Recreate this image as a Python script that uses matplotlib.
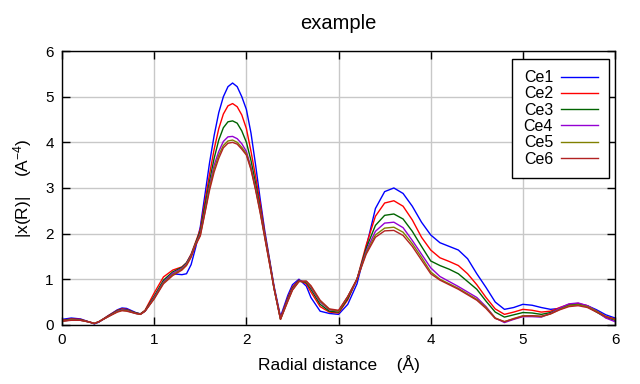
import matplotlib
matplotlib.use("Agg")
import matplotlib.pyplot as plt

plt.rcParams['font.family'] = ['Liberation Sans', 'DejaVu Sans']
plt.rcParams['mathtext.fontset'] = 'custom'
plt.rcParams['mathtext.rm'] = 'Liberation Sans'
plt.rcParams['mathtext.it'] = 'Liberation Sans'

# radial distance grid (Angstrom)
r = [0.0, 0.1, 0.2, 0.3, 0.35, 0.4, 0.5, 0.6, 0.65, 0.7, 0.8, 0.85, 0.9,
     1.0, 1.1, 1.2, 1.3, 1.35, 1.4, 1.45, 1.5, 1.55, 1.6, 1.65, 1.7, 1.75,
     1.8, 1.85, 1.9, 1.95, 2.0, 2.05, 2.1, 2.15, 2.2, 2.25, 2.3, 2.37,
     2.45, 2.5, 2.57, 2.65, 2.7, 2.8, 2.9, 3.0, 3.1, 3.2, 3.3, 3.4, 3.5,
     3.6, 3.7, 3.8, 3.9, 4.0, 4.1, 4.2, 4.3, 4.4, 4.5, 4.6, 4.7, 4.8, 4.9,
     5.0, 5.1, 5.2, 5.3, 5.4, 5.5, 5.6, 5.7, 5.8, 5.9, 6.0]

ce1 = [0.12, 0.15, 0.13, 0.06, 0.02, 0.06, 0.20, 0.33, 0.37, 0.36, 0.27, 0.24, 0.30,
       0.60, 0.95, 1.12, 1.10, 1.12, 1.32, 1.70, 2.15, 2.85, 3.55, 4.15, 4.65, 5.00,
       5.22, 5.30, 5.22, 5.00, 4.72, 4.20, 3.50, 2.75, 2.05, 1.45, 0.85, 0.18,
       0.65, 0.88, 1.00, 0.85, 0.60, 0.30, 0.25, 0.23, 0.45, 0.90, 1.70, 2.55, 2.92,
       3.00, 2.88, 2.60, 2.25, 1.97, 1.80, 1.72, 1.64, 1.45, 1.12, 0.82, 0.50, 0.34, 0.38,
       0.45, 0.43, 0.38, 0.34, 0.36, 0.42, 0.45, 0.42, 0.33, 0.22, 0.15]

ce2 = [0.10, 0.13, 0.12, 0.06, 0.03, 0.07, 0.20, 0.32, 0.35, 0.34, 0.26, 0.24, 0.32,
       0.70, 1.05, 1.20, 1.27, 1.36, 1.55, 1.82, 2.10, 2.70, 3.30, 3.85, 4.30, 4.62,
       4.80, 4.85, 4.78, 4.60, 4.30, 3.80, 3.25, 2.65, 2.00, 1.42, 0.82, 0.15,
       0.60, 0.83, 0.98, 0.90, 0.72, 0.40, 0.28, 0.26, 0.55, 1.00, 1.75, 2.38, 2.67,
       2.72, 2.60, 2.30, 1.92, 1.64, 1.47, 1.39, 1.30, 1.12, 0.88, 0.60, 0.35, 0.23, 0.28,
       0.34, 0.32, 0.28, 0.30, 0.38, 0.45, 0.47, 0.42, 0.30, 0.18, 0.12]

ce3 = [0.09, 0.12, 0.11, 0.06, 0.03, 0.07, 0.19, 0.31, 0.34, 0.33, 0.26, 0.24, 0.31,
       0.63, 0.98, 1.16, 1.26, 1.36, 1.53, 1.80, 2.05, 2.60, 3.15, 3.65, 4.05, 4.32,
       4.45, 4.47, 4.42, 4.25, 4.00, 3.60, 3.10, 2.55, 1.95, 1.40, 0.80, 0.13,
       0.57, 0.80, 0.97, 0.93, 0.78, 0.45, 0.30, 0.28, 0.58, 1.00, 1.68, 2.18, 2.40,
       2.43, 2.32, 2.05, 1.72, 1.40, 1.30, 1.22, 1.12, 0.95, 0.78, 0.52, 0.28, 0.17, 0.22,
       0.27, 0.26, 0.23, 0.27, 0.36, 0.43, 0.45, 0.40, 0.28, 0.16, 0.10]

ce4 = [0.08, 0.11, 0.10, 0.06, 0.03, 0.07, 0.18, 0.30, 0.33, 0.32, 0.25, 0.23, 0.30,
       0.60, 0.94, 1.13, 1.24, 1.34, 1.52, 1.78, 2.00, 2.50, 3.05, 3.50, 3.80, 4.02,
       4.12, 4.13, 4.08, 3.97, 3.80, 3.45, 3.00, 2.50, 1.93, 1.38, 0.80, 0.13,
       0.55, 0.78, 0.96, 0.95, 0.82, 0.50, 0.33, 0.30, 0.62, 1.00, 1.62, 2.05, 2.23,
       2.25, 2.13, 1.85, 1.55, 1.25, 1.06, 0.95, 0.84, 0.72, 0.60, 0.40, 0.15, 0.05, 0.12,
       0.18, 0.18, 0.17, 0.25, 0.37, 0.46, 0.48, 0.42, 0.30, 0.15, 0.07]

ce5 = [0.08, 0.11, 0.10, 0.06, 0.03, 0.07, 0.18, 0.29, 0.32, 0.31, 0.25, 0.23, 0.30,
       0.58, 0.92, 1.10, 1.22, 1.32, 1.50, 1.77, 1.97, 2.47, 3.00, 3.42, 3.72, 3.93,
       4.03, 4.05, 4.00, 3.89, 3.75, 3.42, 2.97, 2.47, 1.92, 1.36, 0.80, 0.12,
       0.53, 0.77, 0.95, 0.95, 0.84, 0.52, 0.34, 0.30, 0.62, 1.00, 1.58, 1.97, 2.12,
       2.14, 2.03, 1.78, 1.48, 1.16, 1.00, 0.90, 0.80, 0.68, 0.56, 0.38, 0.15, 0.07, 0.14,
       0.20, 0.20, 0.18, 0.24, 0.34, 0.42, 0.44, 0.40, 0.30, 0.18, 0.12]

ce6 = [0.08, 0.10, 0.10, 0.06, 0.03, 0.07, 0.18, 0.28, 0.31, 0.30, 0.25, 0.23, 0.30,
       0.57, 0.90, 1.08, 1.20, 1.30, 1.48, 1.75, 1.95, 2.45, 2.95, 3.35, 3.65, 3.88,
       3.98, 4.00, 3.96, 3.85, 3.72, 3.40, 2.95, 2.45, 1.90, 1.35, 0.80, 0.12,
       0.52, 0.76, 0.95, 0.96, 0.86, 0.54, 0.35, 0.32, 0.62, 1.00, 1.55, 1.92, 2.06,
       2.07, 1.96, 1.72, 1.42, 1.12, 0.98, 0.88, 0.78, 0.66, 0.54, 0.36, 0.14, 0.07, 0.13,
       0.19, 0.20, 0.19, 0.24, 0.33, 0.40, 0.42, 0.38, 0.28, 0.18, 0.13]

series = [ce1, ce2, ce3, ce4, ce5, ce6]
labels = ['Ce1', 'Ce2', 'Ce3', 'Ce4', 'Ce5', 'Ce6']
colors = ['#0000ff', '#ff0000', '#006400', '#9400d3', '#808000', '#b22222']

fig = plt.figure(figsize=(6.4, 3.84), dpi=100)
ax = fig.add_axes([0.097, 0.154, 0.864, 0.713])

for vals, lab, col in zip(series, labels, colors):
    ax.plot(r, vals, color=col, lw=1.0, label=lab)

ax.set_xlim(0, 6)
ax.set_ylim(0, 6)
ax.set_xticks(range(7))
ax.set_yticks(range(7))
ax.grid(True, color='#c8c8c8', lw=1.0)
ax.set_axisbelow(True)
ax.tick_params(direction='in', length=6, width=1, top=True, right=True,
               labelsize=11, pad=6)
for s in ax.spines.values():
    s.set_linewidth(1.0)

ax.set_title('example', fontsize=14.5, pad=16)
ax.set_xlabel('Radial distance    (Å)', fontsize=12.5, labelpad=6)
ax.set_ylabel(r'|x(R)|    (A$^{-4}$)', fontsize=12.5, labelpad=8)

leg = ax.legend(loc='upper right', bbox_to_anchor=(0.989, 0.971), borderaxespad=0,
                markerfirst=False, fontsize=11.5, frameon=True, fancybox=False,
                handlelength=2.3, labelspacing=0.08, borderpad=0.7,
                handletextpad=0.5)
leg.get_frame().set_edgecolor('black')
leg.get_frame().set_linewidth(1.0)
leg.get_frame().set_alpha(1)

fig.savefig('out.png', dpi=100)
